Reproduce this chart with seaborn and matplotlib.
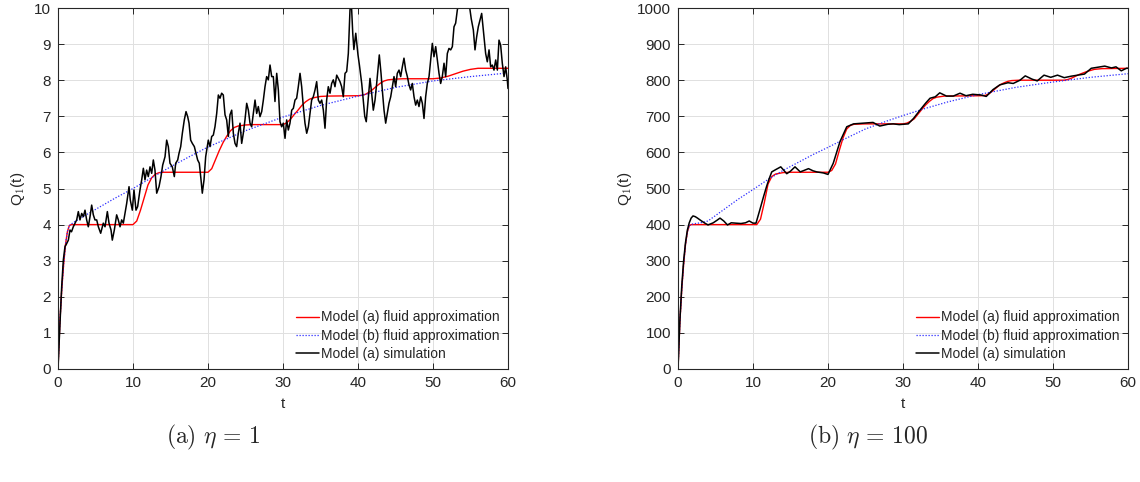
import matplotlib
matplotlib.use("Agg")
import matplotlib.pyplot as plt
import seaborn as sns
import pandas as pd

# ---- panel (a): eta = 1 ----
t_fluid_a = [0, 0.25, 0.5, 0.75, 1.0, 1.25, 1.5, 1.75, 2.0, 10.0,
             10.5, 11.0, 11.5, 12.0, 12.5, 13.0, 13.5, 14.0, 15.0, 20.0,
             20.5, 21.0, 21.5, 22.0, 22.5, 23.0, 23.5, 24.0, 25.0, 26.0,
             30.0, 30.5, 31.0, 31.5, 32.0, 32.5, 33.0, 33.5, 34.0, 35.0,
             36.0, 40.0, 40.5, 41.0, 41.5, 42.0, 42.5, 43.0, 43.5, 44.0,
             45.0, 46.0, 50.0, 51.0, 52.0, 53.0, 54.0, 55.0, 56.0, 57.0,
             60.0]
q_fluid_a = [0, 1.3, 2.2, 2.9, 3.45, 3.8, 3.97, 4.0, 4.0, 4.0,
             4.1, 4.4, 4.75, 5.1, 5.3, 5.4, 5.44, 5.45, 5.45, 5.45,
             5.55, 5.8, 6.05, 6.27, 6.45, 6.6, 6.69, 6.73, 6.76, 6.77,
             6.77, 6.82, 6.92, 7.05, 7.17, 7.3, 7.4, 7.47, 7.51, 7.55,
             7.56, 7.57, 7.58, 7.61, 7.67, 7.75, 7.84, 7.92, 7.98, 8.01,
             8.03, 8.04, 8.04, 8.06, 8.11, 8.18, 8.25, 8.3, 8.33, 8.33,
             8.33]

t_fluid_b_a = [0, 0.25, 0.5, 0.75, 1.0, 1.25, 1.5, 2.0, 3.0, 5.0,
               7.5, 10.0, 12.5, 15.0, 17.5, 20.0, 25.0, 30.0, 35.0, 40.0,
               45.0, 50.0, 55.0, 60.0]
q_fluid_b_a = [0, 1.3, 2.2, 2.9, 3.45, 3.8, 3.97, 4.05, 4.18, 4.42,
               4.72, 5.0, 5.3, 5.6, 5.88, 6.15, 6.6, 6.98, 7.3, 7.56,
               7.8, 7.98, 8.1, 8.2]

t_sim_a = [0, 0.25, 0.49, 0.71, 0.93, 1.1, 1.38, 1.6, 1.8, 2.04,
           2.27, 2.49, 2.71, 2.93, 3.16, 3.38, 3.6, 3.82, 4.04, 4.27,
           4.49, 4.71, 4.93, 5.16, 5.38, 5.69, 6.04, 6.27, 6.58, 6.8,
           7.07, 7.24, 7.51, 7.82, 8.04, 8.27, 8.49, 8.71, 8.93, 9.16,
           9.47, 9.64, 9.91, 10.13, 10.4, 10.62, 10.93, 11.16, 11.38, 11.6,
           11.82, 12.04, 12.27, 12.49, 12.71, 12.93, 13.16, 13.47, 13.73, 13.96,
           14.27, 14.49, 14.71, 14.93, 15.24, 15.51, 15.69, 15.96, 16.13, 16.36,
           16.58, 16.84, 17.07, 17.29, 17.47, 17.69, 17.91, 18.18, 18.4, 18.62,
           18.84, 19.07, 19.24, 19.47, 19.69, 20.04, 20.27, 20.49, 20.71, 20.93,
           21.16, 21.38, 21.6, 21.82, 22.04, 22.27, 22.49, 22.71, 22.93, 23.16,
           23.38, 23.6, 23.82, 24.04, 24.27, 24.49, 24.71, 24.93, 25.16, 25.38,
           25.6, 25.82, 26.04, 26.27, 26.49, 26.71, 26.93, 27.16, 27.38, 27.6,
           27.82, 28.04, 28.27, 28.49, 28.71, 28.93, 29.16, 29.38, 29.6, 29.82,
           30.04, 30.27, 30.49, 30.71, 30.93, 31.16, 31.38, 31.6, 31.82, 32.04,
           32.27, 32.49, 32.71, 32.93, 33.16, 33.38, 33.6, 33.82, 34.04, 34.27,
           34.49, 34.71, 34.93, 35.16, 35.38, 35.6, 35.82, 36.04, 36.27, 36.49,
           36.71, 36.93, 37.16, 37.38, 37.6, 37.82, 38.04, 38.27, 38.49, 38.71,
           38.93, 39.1, 39.3, 39.45, 39.7, 40.0, 40.2, 40.5, 40.7, 40.9,
           41.1, 41.38, 41.6, 41.82, 42.04, 42.27, 42.49, 42.71, 42.84, 43.07,
           43.24, 43.47, 43.69, 43.91, 44.13, 44.36, 44.58, 44.8, 45.02, 45.24,
           45.47, 45.69, 45.91, 46.13, 46.36, 46.58, 46.8, 47.02, 47.24, 47.47,
           47.69, 47.91, 48.13, 48.36, 48.58, 48.8, 49.02, 49.24, 49.47, 49.69,
           49.91, 50.13, 50.36, 50.58, 50.8, 51.02, 51.24, 51.47, 51.69, 51.91,
           52.13, 52.36, 52.58, 52.8, 53.02, 53.24, 53.47, 53.8, 54.2, 54.6,
           54.9, 55.1, 55.38, 55.6, 55.82, 56.04, 56.27, 56.49, 56.71, 57.02,
           57.24, 57.47, 57.69, 57.91, 58.13, 58.36, 58.58, 58.8, 59.02, 59.24,
           59.47, 59.69, 59.91, 60.0]
q_sim_a = [0, 1.2, 2.28, 3.02, 3.39, 3.45, 3.57, 3.85, 3.8, 3.94,
           4.04, 4.13, 4.36, 4.13, 4.31, 4.22, 4.40, 4.13, 3.94, 4.22,
           4.54, 4.27, 4.13, 4.13, 3.94, 3.76, 4.04, 3.94, 4.36, 4.04,
           3.85, 3.57, 3.85, 4.27, 4.13, 3.94, 4.13, 4.04, 4.31, 4.59,
           5.05, 4.68, 4.40, 4.96, 4.40, 4.50, 4.96, 5.24, 5.56, 5.24,
           5.51, 5.33, 5.60, 5.42, 5.79, 5.51, 4.87, 5.05, 5.33, 5.65,
           5.88, 6.34, 6.16, 5.70, 5.60, 5.33, 5.70, 5.79, 5.97, 6.16,
           6.53, 6.90, 7.13, 6.99, 6.81, 6.34, 6.25, 6.16, 5.97, 5.79,
           5.70, 5.24, 4.87, 5.24, 5.88, 6.34, 6.16, 6.44, 6.48, 6.71,
           7.08, 7.59, 7.50, 7.64, 7.59, 7.04, 6.90, 6.44, 7.04, 7.17,
           6.53, 6.25, 6.16, 6.53, 6.81, 6.25, 6.53, 6.90, 7.36, 7.17,
           6.81, 6.71, 7.08, 7.45, 7.08, 7.27, 6.99, 7.13, 7.45, 7.82,
           8.10, 8.01, 8.42, 8.10, 8.10, 7.41, 8.19, 7.73, 6.85, 6.71,
           6.81, 6.39, 6.90, 6.62, 6.81, 7.17, 7.22, 7.45, 7.50, 7.82,
           8.19, 7.82, 7.27, 6.81, 6.53, 6.71, 7.08, 7.45, 7.54, 7.73,
           7.96, 7.45, 7.36, 7.45, 7.17, 6.67, 7.45, 7.82, 7.64, 7.91,
           8.01, 7.82, 8.14, 8.05, 7.96, 7.82, 7.54, 8.19, 8.24, 8.74,
           9.94, 10.2, 9.3, 8.85, 9.3, 8.7, 8.4, 7.9, 7.45, 7.0,
           6.85, 7.54, 8.05, 7.64, 7.17, 7.45, 7.91, 8.42, 8.70, 8.19,
           7.73, 7.17, 6.81, 7.08, 7.36, 7.54, 7.82, 8.10, 7.82, 8.19,
           8.28, 8.10, 8.37, 8.61, 8.28, 8.10, 7.87, 7.73, 7.91, 7.54,
           7.31, 7.45, 7.27, 7.54, 7.36, 6.94, 7.54, 7.91, 8.10, 8.56,
           9.02, 8.65, 8.93, 8.56, 8.19, 7.91, 8.10, 8.47, 8.10, 8.74,
           8.88, 8.84, 8.93, 9.48, 9.58, 9.94, 10.18, 10.4, 10.3, 10.5,
           10.0, 9.7, 9.39, 8.84, 9.2, 9.48, 9.67, 9.85, 9.39, 8.74,
           8.51, 8.84, 8.37, 8.42, 8.28, 8.56, 8.28, 9.11, 8.97, 8.47,
           8.10, 8.37, 8.0, 7.77]

# ---- panel (b): eta = 100 ----
t_fluid_b = [0, 0.25, 0.5, 0.75, 1.0, 1.25, 1.5, 1.75, 2.0, 10.5,
             11.0, 11.5, 12.0, 12.5, 13.0, 14.0, 15.0, 20.0, 20.5, 21.0,
             21.5, 22.0, 22.5, 23.0, 23.5, 25.0, 30.0, 30.5, 31.0, 31.5,
             32.0, 32.5, 33.0, 33.5, 34.0, 34.5, 35.5, 40.5, 41.0, 41.5,
             42.0, 42.5, 43.0, 43.5, 44.0, 44.5, 45.5, 51.5, 52.0, 52.5,
             53.0, 53.5, 54.0, 54.5, 55.0, 55.5, 56.5, 60.0]
q_fluid_b = [0, 130, 220, 290, 345, 380, 397, 400, 400, 400,
             415, 460, 512, 533, 540, 544, 545, 545, 550, 568,
             605, 640, 665, 675, 678, 679, 679, 681, 686, 693,
             706, 719, 731, 741, 749, 753, 756, 757, 758, 763,
             771, 780, 788, 793, 797, 799, 800, 800, 802, 806,
             811, 816, 820, 824, 827, 830, 832, 833]

t_fluid_b_b = [0, 0.25, 0.5, 0.75, 1.0, 1.25, 1.5, 2.0, 3.0, 4.0,
               6.0, 8.0, 10.0, 12.0, 14.0, 16.0, 18.0, 20.0, 22.0, 25.0,
               28.0, 30.0, 33.0, 36.0, 40.0, 45.0, 50.0, 55.0, 60.0]
q_fluid_b_b = [0, 130, 220, 290, 345, 380, 397, 402, 405, 410,
               440, 470, 497, 525, 550, 572, 594, 614, 635, 665,
               688, 702, 722, 740, 760, 780, 795, 808, 818]

t_sim_b = [0, 0.25, 0.5, 0.75, 1.0, 1.25, 1.5, 1.75, 2.0, 2.3,
           2.6, 3.0, 3.5, 4.0, 4.7, 5.2, 5.6, 6.1, 6.6, 7.1,
           7.7, 8.4, 9.0, 9.5, 10.0, 10.4, 10.9, 11.4, 11.8, 12.1,
           12.5, 13.0, 13.7, 14.5, 15.0, 15.6, 16.3, 16.8, 17.4, 18.0,
           18.5, 19.4, 20.0, 20.7, 21.6, 22.5, 23.4, 24.7, 26.0, 26.9,
           28.0, 28.7, 29.5, 30.7, 31.4, 32.3, 33.0, 33.6, 34.3, 34.9,
           35.8, 36.7, 37.6, 38.4, 39.3, 40.4, 41.1, 42.0, 42.9, 44.0,
           44.7, 45.6, 46.3, 47.2, 47.9, 48.8, 49.7, 50.6, 51.5, 52.4,
           53.3, 54.2, 55.1, 56.0, 56.9, 57.8, 58.4, 59.1, 59.8, 60.0]
q_sim_b = [0, 135, 230, 300, 350, 385, 405, 418, 424, 422,
           418, 412, 405, 399, 405, 412, 418, 410, 399, 405,
           404, 403, 405, 410, 404, 404, 440, 477, 505, 524,
           546, 552, 560, 541, 548, 560, 546, 550, 555, 549,
           546, 543, 539, 570, 630, 671, 679, 681, 683, 673,
           678, 679, 677, 679, 694, 718, 736, 750, 754, 765,
           756, 756, 764, 757, 761, 759, 755, 774, 787, 793,
           791, 800, 812, 803, 798, 814, 808, 814, 807, 811,
           814, 817, 833, 836, 839, 834, 837, 826, 833, 833]

labels = ["Model (a) fluid approximation", "Model (b) fluid approximation",
          "Model (a) simulation"]
captions = [r"$\mathrm{(a)}\ \eta\,=\,1$", r"$\mathrm{(b)}\ \eta\,=\,100$"]

sns.set_style("ticks")
plt.rcParams["font.family"] = ["Liberation Sans", "DejaVu Sans"]
plt.rcParams["mathtext.fontset"] = "cm"

fig = plt.figure(figsize=(11.4, 4.82), dpi=100)
W, H = 1140, 482
INK = "#262626"


def make_axes(x0):
    return fig.add_axes([x0 / W, 1 - 369 / H, 450 / W, 361 / H])


def draw_panel(ax, fa, fb, sim, ymax, ystep, ylab_x):
    sns.lineplot(data=pd.DataFrame({"t": fa[0], "q": fa[1]}), x="t", y="q",
                 ax=ax, color="#ff0000", lw=1.0, label=labels[0],
                 estimator=None, sort=False)
    sns.lineplot(data=pd.DataFrame({"t": fb[0], "q": fb[1]}), x="t", y="q",
                 ax=ax, color="#2b2bff", lw=0.9, ls=(0, (1, 1.4)),
                 label=labels[1], estimator=None, sort=False)
    sns.lineplot(data=pd.DataFrame({"t": sim[0], "q": sim[1]}), x="t", y="q",
                 ax=ax, color="black", lw=1.1, label=labels[2],
                 estimator=None, sort=False)
    ax.set_xlim(0, 60)
    ax.set_ylim(0, ymax)
    ax.set_xticks(range(0, 61, 10))
    ax.set_yticks([ystep * i for i in range(11)])
    ax.grid(True, color="#e0e0e0", lw=0.7)
    ax.set_axisbelow(True)
    for s in ax.spines.values():
        s.set_color(INK)
        s.set_linewidth(0.8)
    ax.tick_params(direction="in", length=4.5, width=0.7, top=True, right=True,
                   labelsize=11, colors=INK, pad=5)
    ax.set_xlabel("t", fontsize=11, color=INK)
    ax.set_ylabel(r"Q$_1$(t)", fontsize=11, color=INK, va="center")
    ax.yaxis.set_label_coords(ylab_x, 0.5)
    ax.xaxis.set_label_coords(0.5, -0.078)
    leg = ax.legend(loc="lower right", frameon=False, fontsize=9.9,
                    handlelength=1.7, handletextpad=0.12, labelspacing=0.3,
                    borderaxespad=0.2)
    for txt in leg.get_texts():
        txt.set_color(INK)


ax1 = make_axes(58)
draw_panel(ax1, (t_fluid_a, q_fluid_a), (t_fluid_b_a, q_fluid_b_a),
           (t_sim_a, q_sim_a), 10, 1, -0.088)

ax2 = make_axes(678)
draw_panel(ax2, (t_fluid_b, q_fluid_b), (t_fluid_b_b, q_fluid_b_b),
           (t_sim_b, q_sim_b), 1000, 100, -0.118)

fig.text(213 / W, 1 - 437 / H, captions[0], fontsize=17, ha="center", va="center")
fig.text(868 / W, 1 - 437 / H, captions[1], fontsize=17, ha="center", va="center")

fig.savefig("out.png", dpi=100)
